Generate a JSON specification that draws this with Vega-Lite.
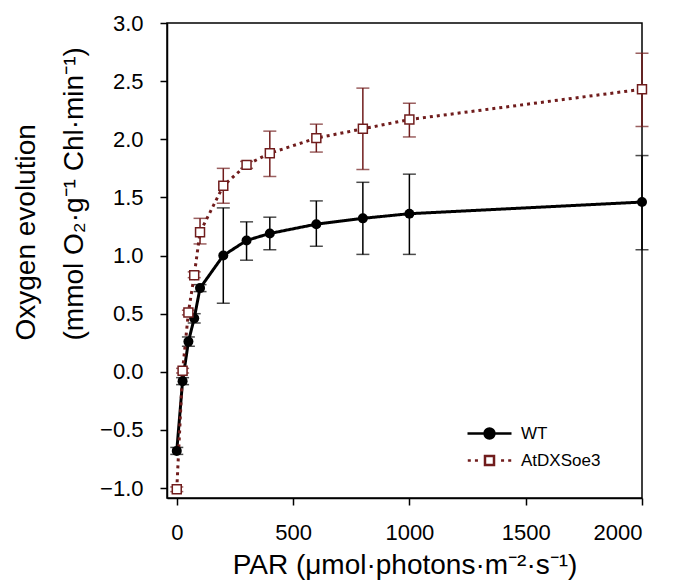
{
  "$schema": "https://vega.github.io/schema/vega-lite/v6.json",
  "width": 475,
  "height": 475,
  "autosize": {"type": "none"},
  "padding": {"left": 167, "top": 23, "right": 31, "bottom": 85},
  "background": "white",
  "config": {
    "font": "Liberation Sans",
    "view": {"stroke": "black", "strokeWidth": 1.5},
    "axis": {
      "grid": false,
      "domainColor": "black",
      "domainWidth": 1.5,
      "tickColor": "black",
      "tickWidth": 1.5,
      "tickSize": 7,
      "labelFont": "Liberation Sans",
      "labelFontSize": 22,
      "labelColor": "black",
      "labelPadding": 17,
      "titleFont": "Liberation Sans",
      "titleFontSize": 28,
      "titleFontWeight": "normal",
      "titleColor": "black"
    }
  },
  "data": {
    "values": [
      {"genotype": "WT", "par": 0, "mean": -0.68, "lo": -0.71, "hi": -0.65},
      {"genotype": "WT", "par": 25, "mean": -0.08, "lo": -0.11, "hi": -0.05},
      {"genotype": "WT", "par": 50, "mean": 0.26, "lo": 0.22, "hi": 0.30},
      {"genotype": "WT", "par": 75, "mean": 0.46, "lo": 0.42, "hi": 0.50},
      {"genotype": "WT", "par": 100, "mean": 0.72, "lo": 0.69, "hi": 0.75},
      {"genotype": "WT", "par": 200, "mean": 1.00, "lo": 0.59, "hi": 1.41},
      {"genotype": "WT", "par": 300, "mean": 1.13, "lo": 0.96, "hi": 1.29},
      {"genotype": "WT", "par": 400, "mean": 1.19, "lo": 1.05, "hi": 1.33},
      {"genotype": "WT", "par": 600, "mean": 1.27, "lo": 1.08, "hi": 1.47},
      {"genotype": "WT", "par": 800, "mean": 1.32, "lo": 1.01, "hi": 1.63},
      {"genotype": "WT", "par": 1000, "mean": 1.36, "lo": 1.01, "hi": 1.70},
      {"genotype": "WT", "par": 2000, "mean": 1.46, "lo": 1.05, "hi": 1.86},
      {"genotype": "AtDXSoe3", "par": 0, "mean": -1.01, "lo": -1.03, "hi": -0.99},
      {"genotype": "AtDXSoe3", "par": 25, "mean": 0.01, "lo": -0.01, "hi": 0.03},
      {"genotype": "AtDXSoe3", "par": 50, "mean": 0.51, "lo": 0.49, "hi": 0.53},
      {"genotype": "AtDXSoe3", "par": 75, "mean": 0.83, "lo": 0.81, "hi": 0.86},
      {"genotype": "AtDXSoe3", "par": 100, "mean": 1.20, "lo": 1.10, "hi": 1.32},
      {"genotype": "AtDXSoe3", "par": 200, "mean": 1.60, "lo": 1.45, "hi": 1.75},
      {"genotype": "AtDXSoe3", "par": 300, "mean": 1.78, "lo": 1.75, "hi": 1.81},
      {"genotype": "AtDXSoe3", "par": 400, "mean": 1.88, "lo": 1.68, "hi": 2.07},
      {"genotype": "AtDXSoe3", "par": 600, "mean": 2.01, "lo": 1.89, "hi": 2.13},
      {"genotype": "AtDXSoe3", "par": 800, "mean": 2.09, "lo": 1.74, "hi": 2.44},
      {"genotype": "AtDXSoe3", "par": 1000, "mean": 2.17, "lo": 2.02, "hi": 2.31},
      {"genotype": "AtDXSoe3", "par": 2000, "mean": 2.43, "lo": 2.11, "hi": 2.74}
    ]
  },
  "encoding": {
    "x": {
      "field": "par",
      "type": "quantitative",
      "scale": {"domain": [-42, 2000], "nice": false, "zero": false},
      "axis": {
        "values": [0, 500, 1000, 1500, 2000],
        "format": "d",
        "title": "PAR (μmol·photons·m⁻²·s⁻¹)",
        "titleY": 53,
        "titleBaseline": "top"
      }
    }
  },
  "layer": [
    {
      "mark": {"type": "rule", "strokeWidth": 1.5},
      "encoding": {
        "y": {
          "field": "lo",
          "type": "quantitative",
          "scale": {"domain": [-1.085, 3.0], "nice": false, "zero": false},
          "axis": {
            "values": [-1, -0.5, 0, 0.5, 1, 1.5, 2, 2.5, 3],
            "format": ".1f",
            "title": ["Oxygen evolution", "(mmol O₂·g⁻¹ Chl·min⁻¹)"],
            "titleAngle": -90,
            "titleAlign": "left",
            "titleBaseline": "bottom",
            "titleLineHeight": 48,
            "titleX": -127,
            "titleY": 317
          }
        },
        "y2": {"field": "hi"},
        "color": {
          "field": "genotype",
          "type": "nominal",
          "scale": {"range": ["#701c1c", "#000000"]},
          "legend": null
        }
      }
    },
    {
      "mark": {"type": "tick", "orient": "horizontal", "size": 13, "thickness": 1.5},
      "encoding": {
        "y": {"field": "lo", "type": "quantitative"},
        "color": {"field": "genotype", "type": "nominal", "legend": null}
      }
    },
    {
      "mark": {"type": "tick", "orient": "horizontal", "size": 13, "thickness": 1.5},
      "encoding": {
        "y": {"field": "hi", "type": "quantitative"},
        "color": {"field": "genotype", "type": "nominal", "legend": null}
      }
    },
    {
      "mark": {"type": "line", "strokeWidth": 3},
      "encoding": {
        "y": {"field": "mean", "type": "quantitative"},
        "color": {"field": "genotype", "type": "nominal", "legend": null},
        "strokeDash": {
          "field": "genotype",
          "type": "nominal",
          "scale": {"range": [[3, 4], [1, 0]]},
          "legend": null
        }
      }
    },
    {
      "transform": [{"filter": "datum.genotype === 'WT'"}],
      "mark": {"type": "point", "shape": "circle", "filled": true, "size": 100, "opacity": 1},
      "encoding": {
        "y": {"field": "mean", "type": "quantitative"},
        "color": {"field": "genotype", "type": "nominal", "legend": null}
      }
    },
    {
      "transform": [{"filter": "datum.genotype === 'AtDXSoe3'"}],
      "mark": {"type": "point", "shape": "square", "filled": false, "fill": "white", "fillOpacity": 1, "strokeWidth": 1.5, "size": 80, "opacity": 1},
      "encoding": {
        "y": {"field": "mean", "type": "quantitative"},
        "color": {"field": "genotype", "type": "nominal", "legend": null}
      }
    },
    {
      "mark": {"type": "point", "opacity": 0, "strokeWidth": 2.5, "size": 121},
      "encoding": {
        "y": {"field": "mean", "type": "quantitative"},
        "shape": {
          "field": "genotype",
          "type": "nominal",
          "scale": {
            "domain": ["WT", "AtDXSoe3"],
            "range": [
              "M-4,0H4M0.9,0A0.9,0.9,0,1,1,-0.9,0A0.9,0.9,0,1,1,0.9,0Z",
              "M-3.95,0H-3.4M-2.65,0H-2.1M2.1,0H2.65M3.4,0H3.95M-0.82,-0.82H0.82V0.82H-0.82Z"
            ]
          },
          "legend": {
            "title": null,
            "orient": "none",
            "legendX": 314,
            "legendY": 402,
            "padding": 0,
            "rowPadding": 6,
            "symbolSize": 121,
            "symbolStrokeWidth": 2.5,
            "symbolOpacity": 1,
            "labelOffset": 23,
            "labelFont": "Liberation Sans",
            "labelFontSize": 17,
            "labelColor": "black",
            "labelBaseline": "middle"
          }
        },
        "fill": {
          "field": "genotype",
          "type": "nominal",
          "scale": {"domain": ["WT", "AtDXSoe3"], "range": ["#000000", "#ffffff"]},
          "legend": {
            "title": null,
            "orient": "none",
            "legendX": 314,
            "legendY": 402,
            "padding": 0,
            "rowPadding": 6,
            "symbolSize": 121,
            "symbolStrokeWidth": 2.5,
            "symbolOpacity": 1,
            "labelOffset": 23,
            "labelFont": "Liberation Sans",
            "labelFontSize": 17,
            "labelColor": "black",
            "labelBaseline": "middle"
          }
        },
        "stroke": {
          "field": "genotype",
          "type": "nominal",
          "scale": {"domain": ["WT", "AtDXSoe3"], "range": ["#000000", "#701c1c"]},
          "legend": {
            "title": null,
            "orient": "none",
            "legendX": 314,
            "legendY": 402,
            "padding": 0,
            "rowPadding": 6,
            "symbolSize": 121,
            "symbolStrokeWidth": 2.5,
            "symbolOpacity": 1,
            "labelOffset": 23,
            "labelFont": "Liberation Sans",
            "labelFontSize": 17,
            "labelColor": "black",
            "labelBaseline": "middle"
          }
        }
      }
    }
  ]
}
